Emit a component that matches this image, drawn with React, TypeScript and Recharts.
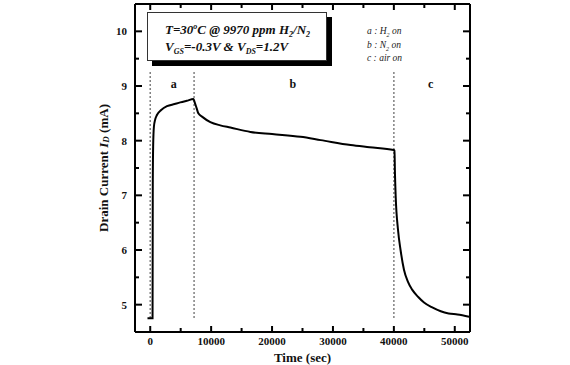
import React from 'react';
import { LineChart, Line, XAxis, YAxis, ReferenceLine, ReferenceDot } from 'recharts';

// time (s) and drain current (mA)
const timeSec = [
  -450, 380, 420, 480, 600, 800, 1100, 1800, 2750, 4000, 4930, 6000, 7100,
  7300, 7600, 7900, 8500, 9870, 11500, 13160, 16450, 20000, 24670, 28000,
  32900, 36000, 39970, 40100, 40180, 40300, 40680, 41100, 41660, 42300,
  43030, 44000, 44950, 46300, 47700, 49000, 50440, 52350,
];
const currentMa = [
  4.75, 4.75, 7.2, 7.9, 8.25, 8.38, 8.47, 8.56, 8.63, 8.67, 8.7, 8.73, 8.76,
  8.7, 8.6, 8.5, 8.44, 8.34, 8.28, 8.24, 8.16, 8.12, 8.07, 8.01,
  7.92, 7.88, 7.83, 7.82, 7.4, 6.98, 6.37, 6.0, 5.64, 5.42,
  5.27, 5.14, 5.04, 4.95, 4.88, 4.84, 4.82, 4.78,
];

const xTicks = [0, 5000, 10000, 15000, 20000, 25000, 30000, 35000, 40000, 45000, 50000];
const yTicks = [5, 5.5, 6, 6.5, 7, 7.5, 8, 8.5, 9, 9.5, 10];
const switchTimes = [0, 7200, 40000];
const phaseLabels = ['a', 'b', 'c'];
const phaseLabelX = [3860, 23400, 46050];

const data = timeSec.map((t, i) => ({ t, id: currentMa[i] }));

const FONT = '"Liberation Serif", "Times New Roman", serif';

const BottomTick = (props: any) => {
  const { x, y, payload } = props;
  const major = payload.value % 10000 === 0;
  return (
    <g>
      <line x1={x} y1={y} x2={x} y2={y - (major ? 6 : 4)} stroke="#000" strokeWidth={2} />
      {major && (
        <text x={x} y={y + 13} textAnchor="middle" fontFamily={FONT} fontWeight="bold" fontSize={11} fill="#111">
          {payload.value}
        </text>
      )}
    </g>
  );
};

const TopTick = (props: any) => {
  const { x, y, payload } = props;
  const major = payload.value % 10000 === 0;
  return <line x1={x} y1={y} x2={x} y2={y + (major ? 6 : 4)} stroke="#000" strokeWidth={2} />;
};

const LeftTick = (props: any) => {
  const { x, y, payload } = props;
  const major = payload.value % 1 === 0;
  return (
    <g>
      <line x1={x} y1={y} x2={x + (major ? 7 : 4)} y2={y} stroke="#000" strokeWidth={2} />
      {major && (
        <text x={x - 8} y={y + 4} textAnchor="end" fontFamily={FONT} fontWeight="bold" fontSize={11} fill="#111">
          {payload.value}
        </text>
      )}
    </g>
  );
};

const RightTick = (props: any) => {
  const { x, y, payload } = props;
  const major = payload.value % 1 === 0;
  return <line x1={x} y1={y} x2={x - (major ? 7 : 4)} y2={y} stroke="#000" strokeWidth={2} />;
};

const YTitle = (props: any) => {
  const vb = props.viewBox;
  const cx = vb.x + vb.width - 32;
  const cy = vb.y + vb.height / 2;
  return (
    <text
      x={cx}
      y={cy}
      transform={`rotate(-90 ${cx} ${cy})`}
      textAnchor="middle"
      dominantBaseline="central"
      fontFamily={FONT}
      fontWeight="bold"
      fontSize={13}
      fill="#111"
    >
      Drain Current <tspan fontStyle="italic">I</tspan>
      <tspan fontStyle="italic" fontSize={9} dy={3}>D</tspan>
      <tspan dy={-3}> (mA)</tspan>
    </text>
  );
};

const XTitle = (props: any) => {
  const vb = props.viewBox;
  return (
    <text x={vb.x + vb.width / 2} y={vb.y + 30} textAnchor="middle" fontFamily={FONT} fontWeight="bold" fontSize={13} fill="#111">
      Time (sec)
    </text>
  );
};

const Sub = ({ children, size = 8 }: any) => (
  <span style={{ fontSize: size, position: 'relative', top: 3 }}>{children}</span>
);
const Sup = ({ children }: any) => (
  <span style={{ fontSize: 8, position: 'relative', top: -5 }}>{children}</span>
);

export default function App() {
  return (
    <div style={{ position: 'absolute', left: 0, top: 0, width: 570, height: 365, background: '#fff' }}>
      <LineChart width={570} height={365} data={data} margin={{ top: 3, right: 99, bottom: 3, left: 105 }}>
        <XAxis
          dataKey="t"
          type="number"
          domain={[-2500, 52500]}
          allowDataOverflow
          ticks={xTicks}
          interval={0}
          height={30}
          tickSize={0}
          tickMargin={0}
          tickLine={false}
          tick={<BottomTick />}
          axisLine={{ stroke: '#000', strokeWidth: 2 }}
          label={{ content: <XTitle /> }}
        />
        <XAxis
          xAxisId="top"
          dataKey="t"
          orientation="top"
          type="number"
          domain={[-2500, 52500]}
          allowDataOverflow
          ticks={xTicks}
          interval={0}
          height={1}
          tickSize={0}
          tickMargin={0}
          tickLine={false}
          tick={<TopTick />}
          axisLine={{ stroke: '#000', strokeWidth: 2 }}
        />
        <YAxis
          type="number"
          domain={[4.5, 10.5]}
          allowDataOverflow
          ticks={yTicks}
          interval={0}
          width={30}
          tickSize={0}
          tickMargin={0}
          tickLine={false}
          tick={<LeftTick />}
          axisLine={{ stroke: '#000', strokeWidth: 2 }}
          label={{ content: <YTitle /> }}
        />
        <YAxis
          yAxisId="right"
          orientation="right"
          type="number"
          domain={[4.5, 10.5]}
          allowDataOverflow
          ticks={yTicks}
          interval={0}
          width={1}
          tickSize={0}
          tickMargin={0}
          tickLine={false}
          tick={<RightTick />}
          axisLine={{ stroke: '#000', strokeWidth: 2 }}
        />
        {switchTimes.map((t) => (
          <ReferenceLine
            key={t}
            segment={[{ x: t, y: 4.76 }, { x: t, y: 9.25 }]}
            stroke="#555"
            strokeWidth={1.5}
            strokeDasharray="1.5 2.5"
          />
        ))}
        {phaseLabels.map((s, i) => (
          <ReferenceDot
            key={s}
            x={phaseLabelX[i]}
            y={9.03}
            r={0}
            shape={(p: any) => (
              <text x={p.cx} y={p.cy} textAnchor="middle" dominantBaseline="central" fontFamily={FONT} fontWeight="bold" fontSize={12} fill="#111">
                {s}
              </text>
            )}
          />
        ))}
        {/* invisible copy so the mirrored frame axes get drawn */}
        <Line
          xAxisId="top"
          yAxisId="right"
          dataKey="id"
          stroke="none"
          dot={false}
          activeDot={false}
          isAnimationActive={false}
        />
        <Line
          dataKey="id"
          type="monotone"
          stroke="#000"
          strokeWidth={2}
          dot={false}
          isAnimationActive={false}
        />
      </LineChart>

      <div
        style={{
          position: 'absolute',
          left: 147,
          top: 12,
          width: 180,
          height: 49,
          boxSizing: 'border-box',
          border: '1px solid #333',
          background: '#fff',
          boxShadow: '5px 5px 0 #000',
          fontFamily: FONT,
          fontWeight: 'bold',
          fontStyle: 'italic',
          fontSize: 13,
          color: '#111',
          padding: '9px 0 0 17px',
          lineHeight: '15px',
          whiteSpace: 'nowrap',
        }}
      >
        <div>
          T=30<Sup>o</Sup>C @ 9970 ppm H<Sub>2</Sub>/N<Sub>2</Sub>
        </div>
        <div>
          V<Sub>GS</Sub>=-0.3V &amp; V<Sub>DS</Sub>=1.2V
        </div>
      </div>

      <div
        style={{
          position: 'absolute',
          left: 367,
          top: 25,
          fontFamily: FONT,
          fontStyle: 'italic',
          fontSize: 9.5,
          color: '#222',
          lineHeight: '12.5px',
          whiteSpace: 'nowrap',
        }}
      >
        <div>a : H<Sub size={6}>2</Sub> on</div>
        <div>b : N<Sub size={6}>2</Sub> on</div>
        <div>c : air on</div>
      </div>
    </div>
  );
}
